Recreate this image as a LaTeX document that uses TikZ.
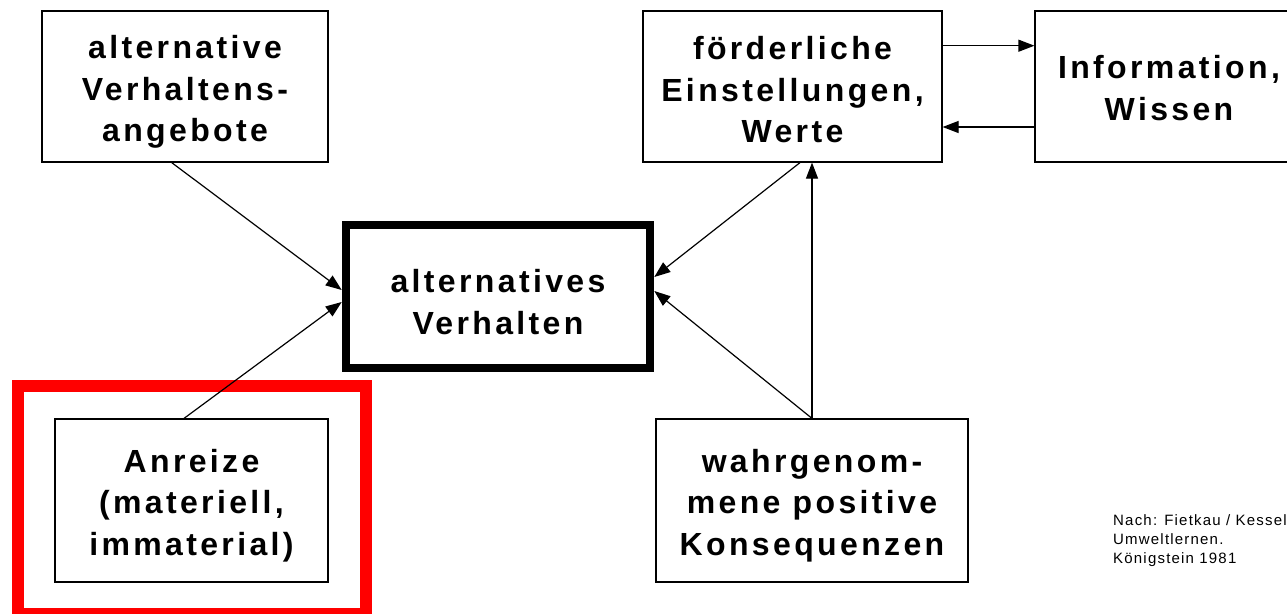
\documentclass[tikz,border=0pt]{standalone}
\usepackage{fontspec}
\setmainfont{Liberation Sans}
\newfontfamily\boxfont{Liberation Sans}[LetterSpace=10.5]
\newfontfamily\notefont{Liberation Sans}[LetterSpace=8]
\usetikzlibrary{arrows.meta,calc}
\newcommand\topstrut[1]{\rule{0pt}{#1}}
\tikzset{
  box/.style={draw, line width=1.2pt, align=center, inner sep=0pt,
    font=\boxfont\bfseries\fontsize{32pt}{41.5pt}\selectfont},
  mainbox/.style={box, line width=8pt},
  arr/.style={-{Triangle[length=16pt,width=12pt]}, line width=1.2pt},
  frame/.style={draw=red, line width=12pt},
  note/.style={anchor=north west, align=left, inner sep=0pt,
    font=\notefont\fontsize{15pt}{19pt}\selectfont}
}
\begin{document}
\begin{tikzpicture}[x=1pt,y=-1pt]
\clip (0,0) rectangle (1287,613);
\fill[white] (0,0) rectangle (1287,613);

\node[box, minimum width=286pt, minimum height=151pt] (angebote) at (185,86.5)
  {\topstrut{34pt}alternative\\Verhaltens-\\angebote};
\node[mainbox, minimum width=304.6pt, minimum height=143pt] (verhalten) at (498,296.5)
  {\topstrut{34pt}alternatives\\Verhalten};
\node[box, minimum width=299pt, minimum height=151pt] (einst) at (792.5,86.5)
  {\topstrut{30pt}förderliche\\Einstellungen,\\Werte};
\node[box, minimum width=268pt, minimum height=151pt] (info) at (1169,86.5)
  {\topstrut{26pt}Information,\\Wissen};
\node[box, minimum width=273pt, minimum height=163pt] (anreize) at (191.5,500.5)
  {\topstrut{33pt}Anreize\\(materiell,\\immaterial)};
\node[box, minimum width=312pt, minimum height=163pt] (konseq) at (812,500.5)
  {\topstrut{33pt}wahrgenom-\\mene positive\\Konsequenzen};

\draw[frame] (18.3,386) rectangle (366.3,613.5);

\node[note] (quelle) at (1113,514) {Nach: Fietkau / Kessel\\Umweltlernen.\\Königstein 1981};

\draw[arr] ([xshift=-13.3pt]angebote.south) -- ([yshift=6.5pt]verhalten.west);
\draw[arr] ([xshift=-7.5pt]anreize.north) -- ([yshift=-5.5pt]verhalten.west);
\draw[arr] ([xshift=7.5pt]einst.south) -- ([yshift=19.5pt]verhalten.east);
\draw[arr] (konseq.north) -- ([yshift=5.5pt]verhalten.east);
\draw[arr] (konseq.north) -- (konseq.north |- einst.south);
\draw[arr] ([yshift=40.8pt]einst.east) -- ([yshift=40.8pt]einst.east -| info.west);
\draw[arr] ([yshift=-40.5pt]info.west) -- ([yshift=-40.5pt]info.west -| einst.east);
\end{tikzpicture}
\end{document}
